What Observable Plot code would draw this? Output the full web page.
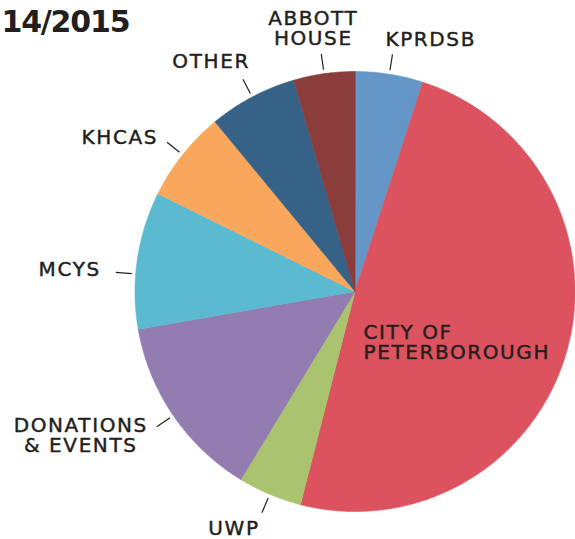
<!DOCTYPE html>
<html>
<head>
<meta charset="utf-8">
<script src="https://cdn.jsdelivr.net/npm/d3@7"></script>
<script src="https://cdn.jsdelivr.net/npm/@observablehq/plot@0.6"></script>
<style>
  html, body { margin: 0; padding: 0; background: #fff; }
  svg { display: block; }
  g[font-size="20"] text { letter-spacing: 1.6px; }
  g[font-size="30"] text { letter-spacing: -1.2px; }
</style>
</head>
<body>
<div id="chart"></div>
<script>
// ---- data ----
const categories = ["KPRDSB", "CITY OF PETERBOROUGH", "UWP", "DONATIONS & EVENTS", "MCYS", "KHCAS", "OTHER", "ABBOTT HOUSE"];
const labelTexts = ["KPRDSB", "CITY OF\nPETERBOROUGH", "UWP", "DONATIONS\n& EVENTS", "MCYS", "KHCAS", "OTHER", "ABBOTT\nHOUSE"];
const shares = [5.0, 49.1, 4.7, 13.6, 10.1, 6.7, 6.5, 4.5];
const colors = ["#6497c8", "#dc535f", "#aac36f", "#927cb0", "#5bb9d0", "#f8a75c", "#366287", "#8a3d3a"];
const title = "14/2015";

// ---- layout ----
const W = 575, H = 539, CX = 354.5, CY = 291, R = 220;
const ink = "#231f20";
const font = "DejaVu Sans";

const pie = d3.pie().sort(null).value(d => d.value);
const arcs = pie(categories.map((name, i) => ({name, value: shares[i], label: labelTexts[i]})));

// slice outlines (polar -> cartesian, unit radius; angle 0 = 12 o'clock, clockwise)
const slicePts = [];
for (const a of arcs) {
  slicePts.push({name: a.data.name, x: 0, y: 0});
  const n = Math.max(2, Math.ceil((a.endAngle - a.startAngle) / (Math.PI / 360)));
  for (let k = 0; k <= n; k++) {
    const t = a.startAngle + (a.endAngle - a.startAngle) * k / n;
    slicePts.push({name: a.data.name, x: Math.sin(t), y: Math.cos(t)});
  }
}

// label placement relative to leader end (pixels)
const labelLayout = {
  "KPRDSB": {anchor: "start", dx: -7, dy: -15, rot: 0},
  "ABBOTT HOUSE": {anchor: "middle", dx: -8, dy: -25, rot: 0},
  "OTHER": {anchor: "end", dx: 7, dy: -18, rot: 0},
  "KHCAS": {anchor: "end", dx: -9, dy: -5, rot: 0},
  "MCYS": {anchor: "end", dx: -15, dy: -3, rot: -3.7},
  "DONATIONS & EVENTS": {anchor: "middle", dx: -76, dy: 8.5, rot: 0},
  "UWP": {anchor: "middle", dx: -28, dy: 16, rot: 0}
};
const r1 = 224 / R, r2 = 240 / R;
const outside = arcs.filter(a => labelLayout[a.data.name]).map(a => {
  const L = labelLayout[a.data.name];
  const m = (a.startAngle + a.endAngle) / 2 + L.rot * Math.PI / 180;
  const x2 = r2 * Math.sin(m), y2 = r2 * Math.cos(m);
  return {
    label: a.data.label, anchor: L.anchor,
    x1: r1 * Math.sin(m), y1: r1 * Math.cos(m), x2, y2,
    lx: x2 + L.dx / R, ly: y2 - L.dy / R
  };
});
const inside = arcs.filter(a => !labelLayout[a.data.name]).map(a => ({label: a.data.label, lx: 8.5 / R, ly: -51.5 / R}));

const textOpts = {fill: ink, fontSize: 20, lineHeight: 1.0, lineAnchor: "middle", stroke: ink, strokeWidth: 0.45, fontFamily: font};

const chart = Plot.plot({
  width: W, height: H, margin: 0,
  x: {domain: [-CX / R, (W - CX) / R], axis: null},
  y: {domain: [-(H - CY) / R, CY / R], axis: null},
  color: {domain: categories, range: colors},
  style: {fontFamily: font, background: "#fff"},
  marks: [
    Plot.line(slicePts, {x: "x", y: "y", z: "name", fill: "name", stroke: "name", strokeWidth: 0.6, curve: "linear-closed"}),
    Plot.link(outside, {x1: "x1", y1: "y1", x2: "x2", y2: "y2", stroke: ink, strokeWidth: 1.2}),
    ...["start", "middle", "end"].map(anc =>
      Plot.text(outside.filter(d => d.anchor === anc), {x: "lx", y: "ly", text: "label", textAnchor: anc, ...textOpts})
    ),
    Plot.text(inside, {x: "lx", y: "ly", text: "label", textAnchor: "start", ...textOpts}),
    Plot.text([title], {frameAnchor: "top-left", text: d => d, dx: 1, dy: 10, lineAnchor: "top", fontSize: 30, fontWeight: "bold", fill: ink, fontFamily: font})
  ]
});
document.getElementById("chart").appendChild(chart);
</script>
</body>
</html>
